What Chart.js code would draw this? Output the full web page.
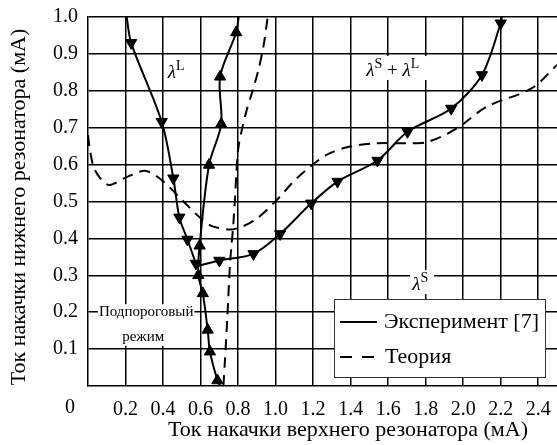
<!DOCTYPE html>
<html>
<head>
<meta charset="utf-8">
<script src="https://cdn.jsdelivr.net/npm/chart.js@4.4.0/dist/chart.umd.min.js"></script>
<style>
  body { margin: 0; background: #fff; }
  #wrap { width: 557px; height: 445px; }
</style>
</head>
<body>
<div id="wrap"><canvas id="grafica"></canvas></div>
<script>
// Эксперимент: левая ветвь (вниз)
const expLeftX = [0.206, 0.23, 0.393, 0.455, 0.487, 0.53, 0.575];
const expLeftY = [1.0, 0.93, 0.716, 0.563, 0.457, 0.397, 0.332];
// Эксперимент: средняя ветвь (вверх)
const expMidX = [0.705, 0.69, 0.65, 0.638, 0.612, 0.588, 0.595, 0.645, 0.71, 0.704, 0.79, 0.803];
const expMidY = [0.0, 0.015, 0.093, 0.152, 0.251, 0.30, 0.38, 0.599, 0.71, 0.838, 0.958, 1.0];
// Эксперимент: правая ветвь
const expRightX = [0.585, 0.70, 0.882, 1.024, 1.19, 1.33, 1.543, 1.703, 1.936, 2.10, 2.20, 2.206];
const expRightY = [0.325, 0.34, 0.358, 0.412, 0.495, 0.554, 0.611, 0.689, 0.752, 0.843, 0.983, 1.0];
// Теория
const theoryAX = [0, 0.01, 0.037, 0.107, 0.197, 0.304, 0.393, 0.517, 0.606, 0.668, 0.775, 0.89, 1.006, 1.113, 1.27, 1.397, 1.54, 1.717, 1.815, 1.966, 2.126, 2.366, 2.5];
const theoryAY = [0.68, 0.64, 0.585, 0.545, 0.564, 0.583, 0.558, 0.496, 0.452, 0.432, 0.425, 0.45, 0.504, 0.563, 0.626, 0.649, 0.658, 0.658, 0.662, 0.698, 0.757, 0.807, 0.87];
const theoryBX = [0.722, 0.73, 0.743, 0.757, 0.763, 0.775, 0.784, 0.79, 0.80, 0.82, 0.846, 0.873, 0.908, 0.935, 0.958];
const theoryBY = [0.0, 0.07, 0.188, 0.333, 0.369, 0.441, 0.513, 0.567, 0.64, 0.694, 0.748, 0.793, 0.856, 0.92, 1.0];

const xTicks = [0.2, 0.4, 0.6, 0.8, 1.0, 1.2, 1.4, 1.6, 1.8, 2.0, 2.2, 2.4];
const yTicks = [0.1, 0.2, 0.3, 0.4, 0.5, 0.6, 0.7, 0.8, 0.9, 1.0];

const SERIF = "'Liberation Serif', 'Times New Roman', serif";

function zip(xs, ys) {
    return xs.map(function(x, i) { return { x: x, y: ys[i] }; });
}

// концы линии без маркера
function markers(bareFirst, bareLast) {
    return function(ctx) {
        var last = ctx.dataset.data.length - 1;
        if ((bareFirst && ctx.dataIndex === 0) || (bareLast && ctx.dataIndex === last)) return 0;
        return 6.5;
    };
}

function expSet(data, rotation, bareFirst, bareLast) {
    return {
        label: 'Эксперимент [7]',
        data: data,
        showLine: true,
        borderColor: '#000',
        backgroundColor: '#000',
        borderWidth: 2,
        tension: 0.3,
        pointStyle: 'triangle',
        pointRotation: rotation,
        pointRadius: markers(bareFirst, bareLast),
        pointBorderWidth: 1
    };
}

function theorySet(data) {
    return {
        label: 'Теория',
        data: data,
        showLine: true,
        borderColor: '#000',
        borderWidth: 2,
        borderDash: [11, 7],
        tension: 0.3,
        pointRadius: 0
    };
}

function supText(ctx, x, y, parts) {
    // parts: [текст, верхний индекс]
    parts.forEach(function(p) {
        if (p[1]) {
            ctx.font = "14px " + SERIF;
            ctx.fillText(p[0], x, y - 8);
        } else if (p[0] === 'λ') {
            ctx.font = "italic 19px " + SERIF;
            ctx.fillText(p[0], x, y);
        } else {
            ctx.font = "19px " + SERIF;
            ctx.fillText(p[0], x, y);
        }
        x += ctx.measureText(p[0]).width;
    });
}

var annotations = {
    id: 'annotations',
    beforeDatasetsDraw: function(chart) {
        var ctx = chart.ctx, sx = chart.scales.x, sy = chart.scales.y;
        ctx.save();
        ctx.textBaseline = 'alphabetic';
        ctx.textAlign = 'left';
        ctx.fillStyle = '#000';

        // λL
        supText(ctx, sx.getPixelForValue(0.425), sy.getPixelForValue(0.835), [['λ'], ['L', true]]);

        // λS + λL
        var x1 = sx.getPixelForValue(1.483), y1 = sy.getPixelForValue(0.84);
        ctx.fillStyle = '#fff';
        ctx.fillRect(x1 - 2, y1 - 20, 66, 24);
        ctx.fillStyle = '#000';
        supText(ctx, x1, y1, [['λ'], ['S', true], [' + '], ['λ'], ['L', true]]);

        // λS
        var x2 = sx.getPixelForValue(1.728), y2 = sy.getPixelForValue(0.26);
        ctx.fillStyle = '#fff';
        ctx.fillRect(x2 - 2, y2 - 20, 24, 24);
        ctx.fillStyle = '#000';
        supText(ctx, x2, y2, [['λ'], ['S', true]]);

        // Подпороговый режим
        var cx = sx.getPixelForValue(0.31);
        var yA = sy.getPixelForValue(0.2), yB = sy.getPixelForValue(0.133);
        ctx.font = "15px " + SERIF;
        ctx.textAlign = 'center';
        ctx.textBaseline = 'middle';
        var w = ctx.measureText('Подпороговый').width;
        ctx.fillStyle = '#fff';
        ctx.fillRect(cx - w / 2 - 1, yA - 8, w + 2, yB - yA + 17);
        ctx.fillStyle = '#000';
        ctx.fillText('Подпороговый', cx, yA);
        ctx.fillText('режим', cx - 3, yB);
        ctx.restore();
    },
    afterDraw: function(chart) {
        var ctx = chart.ctx;
        ctx.save();
        ctx.fillStyle = '#000';

        // начало координат
        ctx.font = "20px " + SERIF;
        ctx.textAlign = 'center';
        ctx.textBaseline = 'middle';
        ctx.fillText('0', 70, 408);

        // подписи осей
        ctx.font = "22px " + SERIF;
        ctx.textBaseline = 'alphabetic';
        ctx.fillText('Ток накачки верхнего резонатора (мА)', 348, 436);
        ctx.save();
        ctx.translate(25, 207);
        ctx.rotate(-Math.PI / 2);
        ctx.fillText('Ток накачки нижнего резонатора (мА)', 0, 0);
        ctx.restore();

        // легенда
        var lx = 334, ly = 299, lw = 211, lh = 78;
        ctx.fillStyle = '#fff';
        ctx.fillRect(lx, ly, lw, lh);
        ctx.strokeStyle = '#333';
        ctx.lineWidth = 1;
        ctx.strokeRect(lx + 0.5, ly + 0.5, lw, lh);
        ctx.strokeStyle = '#000';
        ctx.lineWidth = 2;
        ctx.beginPath();
        ctx.moveTo(340, 322); ctx.lineTo(377, 322);
        ctx.stroke();
        ctx.setLineDash([12, 10]);
        ctx.beginPath();
        ctx.moveTo(340, 357); ctx.lineTo(377, 357);
        ctx.stroke();
        ctx.setLineDash([]);
        ctx.fillStyle = '#000';
        ctx.font = "22px " + SERIF;
        ctx.textAlign = 'left';
        ctx.textBaseline = 'middle';
        ctx.fillText('Эксперимент [7]', 384, 322);
        ctx.fillText('Теория', 385, 357);
        ctx.restore();
    }
};

function build() {
    var ctx = document.getElementById("grafica").getContext("2d");

    var data = {
        datasets: [
            theorySet(zip(theoryAX, theoryAY)),
            theorySet(zip(theoryBX, theoryBY)),
            expSet(zip(expLeftX, expLeftY), 180, true, false),
            expSet(zip(expMidX, expMidY), 0, true, true),
            expSet(zip(expRightX, expRightY), 180, true, true)
        ]
    };

    var tickFont = { family: SERIF, size: 20 };

    var options = {
        responsive: true,
        maintainAspectRatio: false,
        animation: false,
        layout: { autoPadding: false, padding: { top: 17, right: 0, left: 0, bottom: 0 } },
        plugins: { legend: { display: false }, tooltip: { enabled: false } },
        scales: {
            x: {
                type: 'linear',
                min: 0,
                max: 2.5,
                afterBuildTicks: function(s) { s.ticks = xTicks.map(function(v) { return { value: v }; }); },
                afterFit: function(s) { s.height = 59; s.paddingLeft = 0; s.paddingRight = 0; },
                ticks: {
                    callback: function(v) { return v.toFixed(1); },
                    font: tickFont,
                    color: '#000',
                    padding: 12,
                    maxRotation: 0,
                    autoSkip: false
                },
                grid: { color: '#000', lineWidth: 1.5, drawTicks: false },
                border: { color: '#000', width: 1.5 }
            },
            y: {
                type: 'linear',
                min: 0,
                max: 1.0,
                afterBuildTicks: function(s) { s.ticks = yTicks.map(function(v) { return { value: v }; }); },
                afterFit: function(s) { s.width = 88; s.paddingTop = 0; s.paddingBottom = 0; },
                ticks: {
                    callback: function(v) { return v.toFixed(1); },
                    font: tickFont,
                    color: '#000',
                    padding: 10,
                    autoSkip: false
                },
                grid: { color: '#000', lineWidth: 1.5, drawTicks: false },
                border: { color: '#000', width: 1.5 }
            }
        }
    };

    new Chart(ctx, {
        type: 'scatter',
        data: data,
        options: options,
        plugins: [annotations]
    });
}

document.addEventListener("DOMContentLoaded", function() {
    if (document.fonts && document.fonts.load) {
        Promise.all([
            document.fonts.load("20px 'Liberation Serif'"),
            document.fonts.load("italic 20px 'Liberation Serif'")
        ]).then(build, build);
    } else {
        build();
    }
});
</script>
</body>
</html>
